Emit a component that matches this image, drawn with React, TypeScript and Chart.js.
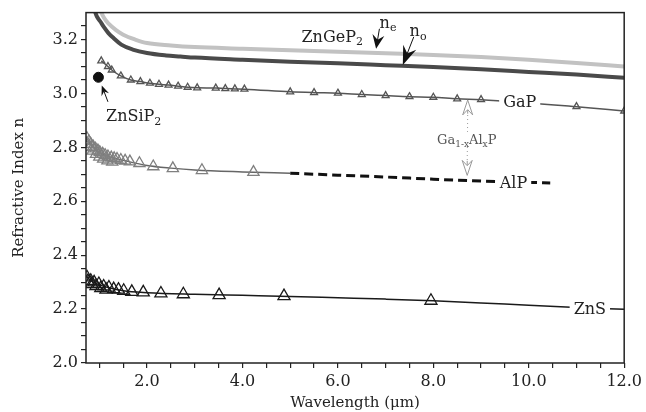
import React, { useEffect, useRef } from 'react';
import { Chart, registerables } from 'chart.js';
Chart.register(...registerables);

// ZnGeP2 extraordinary index n_e (light gray curve)
const neX = [0.97, 1.02, 1.1, 1.2, 1.35, 1.5, 1.75, 2.0, 2.5, 3.0, 4.0, 5.0, 6.0, 7.0, 8.0, 9.0, 10.0, 11.0, 12.0];
const neY = [3.34, 3.31, 3.28, 3.258, 3.235, 3.218, 3.2, 3.187, 3.178, 3.172, 3.166, 3.16, 3.155, 3.149, 3.143, 3.135, 3.125, 3.113, 3.1];

// ZnGeP2 ordinary index n_o (dark curve)
const noX = [0.86, 0.9, 0.95, 1.02, 1.1, 1.19, 1.3, 1.46, 1.7, 2.0, 2.4, 2.7, 3.0, 4.0, 5.0, 6.0, 7.0, 8.0, 9.0, 10.0, 11.0, 12.0];
const noY = [3.35, 3.31, 3.285, 3.267, 3.245, 3.224, 3.205, 3.181, 3.163, 3.15, 3.141, 3.137, 3.133, 3.125, 3.118, 3.112, 3.105, 3.098, 3.09, 3.08, 3.07, 3.058];

// GaP measured points
const gapX = [1.04, 1.18, 1.26, 1.45, 1.66, 1.86, 2.06, 2.25, 2.45, 2.65, 2.85, 3.05, 3.44, 3.64, 3.84, 4.04, 5.0, 5.5, 6.0, 6.5, 7.0, 7.5, 8.0, 8.5, 9.0, 11.0, 12.0];
const gapY = [3.121, 3.1, 3.087, 3.065, 3.05, 3.044, 3.038, 3.034, 3.031, 3.027, 3.023, 3.021, 3.02, 3.018, 3.017, 3.016, 3.006, 3.003, 3.001, 2.996, 2.992, 2.988, 2.986, 2.98, 2.977, 2.951, 2.935];

// AlP measured points (two overlapping sets)
const alpX = [0.74, 0.78, 0.82, 0.87, 0.92, 0.97, 1.01, 1.07, 1.12, 1.18, 1.25, 1.31, 1.37, 1.45, 1.54, 1.64, 1.84, 2.13, 2.54, 3.15, 4.23];
const alpY = [2.834, 2.822, 2.812, 2.803, 2.795, 2.788, 2.782, 2.776, 2.771, 2.766, 2.762, 2.759, 2.757, 2.753, 2.75, 2.747, 2.741, 2.729, 2.722, 2.715, 2.708];
const alp2X = [0.76, 0.8, 0.86, 0.93, 1.0, 1.08, 1.17, 1.27];
const alp2Y = [2.812, 2.8, 2.787, 2.775, 2.765, 2.757, 2.751, 2.746];
// AlP fitted curve (solid) and extrapolation (dashed)
const alpLineX = [0.72, 0.8, 0.9, 1.0, 1.2, 1.5, 2.0, 2.5, 3.0, 4.0, 5.0];
const alpLineY = [2.84, 2.815, 2.795, 2.782, 2.765, 2.752, 2.733, 2.723, 2.716, 2.709, 2.704];
const alpDashX = [5.0, 6.0, 7.0, 8.0, 9.0, 10.0, 10.45];
const alpDashY = [2.704, 2.697, 2.69, 2.682, 2.675, 2.67, 2.668];

// ZnS measured points and curve
const znsX = [0.74, 0.82, 0.89, 0.99, 1.09, 1.2, 1.3, 1.4, 1.51, 1.68, 1.92, 2.29, 2.76, 3.51, 4.87, 7.95];
const znsY = [2.318, 2.305, 2.299, 2.293, 2.284, 2.28, 2.274, 2.272, 2.268, 2.264, 2.262, 2.258, 2.255, 2.252, 2.248, 2.231];
const zns2X = [0.76, 0.84, 0.93, 1.03, 1.14];
const zns2Y = [2.304, 2.293, 2.285, 2.278, 2.272];
const znsLineX = [0.72, 0.8, 0.9, 1.0, 1.2, 1.5, 2.0, 3.0, 4.0, 5.0, 6.0, 7.0, 8.0, 9.0, 10.0, 11.0, 12.0];
const znsLineY = [2.325, 2.308, 2.298, 2.29, 2.279, 2.268, 2.261, 2.255, 2.251, 2.247, 2.242, 2.237, 2.231, 2.223, 2.214, 2.206, 2.199];

// ZnSiP2 single point
const znsipX = [0.98];
const znsipY = [3.06];

// Axis ticks
const xMajorTicks = [2, 4, 6, 8, 10, 12];
const yMajorTicks = [2.0, 2.2, 2.4, 2.6, 2.8, 3.0, 3.2];
const X_MIN = 0.72, X_MAX = 12.0, Y_MIN = 2.0, Y_MAX = 3.3;

const SERIF = '"DejaVu Serif", "Liberation Serif", serif';

const pts = (xs: number[], ys: number[]) => xs.map((x, i) => ({ x, y: ys[i] }));

type Seg = [string, number];

function richWidth(ctx: CanvasRenderingContext2D, segs: Seg[], size: number) {
  let w = 0;
  for (const [t, sub] of segs) {
    ctx.font = `${sub ? Math.round(size * 0.68) : size}px ${SERIF}`;
    w += ctx.measureText(t).width;
  }
  return w;
}

function drawRich(ctx: CanvasRenderingContext2D, segs: Seg[], cx: number, cy: number, size: number, color: string, bg = false) {
  const w = richWidth(ctx, segs, size);
  let x = cx - w / 2;
  const base = cy + size * 0.36;
  if (bg) {
    ctx.fillStyle = '#fff';
    ctx.fillRect(x - 4, cy - size * 0.55, w + 8, size * 1.1);
  }
  ctx.fillStyle = color;
  ctx.textAlign = 'left';
  ctx.textBaseline = 'alphabetic';
  for (const [t, sub] of segs) {
    const s = sub ? Math.round(size * 0.68) : size;
    ctx.font = `${s}px ${SERIF}`;
    ctx.fillText(t, x, sub ? base + size * 0.22 : base);
    x += ctx.measureText(t).width;
  }
}

function arrow(ctx: CanvasRenderingContext2D, x0: number, y0: number, x1: number, y1: number, L: number, W: number, color: string, filled: boolean) {
  const dx = x1 - x0, dy = y1 - y0;
  const len = Math.hypot(dx, dy) || 1;
  const ux = dx / len, uy = dy / len;
  const nx = -uy, ny = ux;
  ctx.strokeStyle = color;
  ctx.lineWidth = 1;
  ctx.setLineDash([]);
  ctx.beginPath();
  ctx.moveTo(x0, y0);
  ctx.lineTo(x1 - ux * L * 0.6, y1 - uy * L * 0.6);
  ctx.stroke();
  ctx.beginPath();
  ctx.moveTo(x1, y1);
  ctx.lineTo(x1 - ux * L + nx * W, y1 - uy * L + ny * W);
  ctx.lineTo(x1 - ux * L * 0.65, y1 - uy * L * 0.65);
  ctx.lineTo(x1 - ux * L - nx * W, y1 - uy * L - ny * W);
  ctx.closePath();
  if (filled) {
    ctx.fillStyle = color;
    ctx.fill();
  } else {
    ctx.fillStyle = '#fff';
    ctx.fill();
    ctx.stroke();
  }
}

const annotPlugin = {
  id: 'annot',
  afterDatasetsDraw(chart: any) {
    const { ctx, scales } = chart;
    const X = (v: number) => scales.x.getPixelForValue(v);
    const Y = (v: number) => scales.y.getPixelForValue(v);
    ctx.save();

    // Ga(1-x)Al(x)P dotted connector with hollow arrowheads
    ctx.strokeStyle = '#999';
    ctx.lineWidth = 1;
    ctx.setLineDash([1, 3]);
    ctx.beginPath();
    ctx.moveTo(X(8.72), Y(2.92));
    ctx.lineTo(X(8.71), Y(2.752));
    ctx.stroke();
    ctx.setLineDash([]);
    arrow(ctx, X(8.72), Y(2.925), X(8.72), Y(2.976), 15, 5, '#999', false);
    arrow(ctx, X(8.71), Y(2.75), X(8.71), Y(2.696), 15, 5, '#999', false);
    drawRich(ctx, [['Ga', 0], ['1-x', 1], ['Al', 0], ['x', 1], ['P', 0]], X(8.70), Y(2.831), 13, '#555', true);

    // curve labels with white background
    drawRich(ctx, [['GaP', 0]], X(9.81), Y(2.97), 16, '#222', true);
    drawRich(ctx, [['AlP', 0]], X(9.68), Y(2.671), 16, '#222', true);
    drawRich(ctx, [['ZnS', 0]], X(11.28), Y(2.203), 16, '#222', true);

    // ZnGeP2 labels and arrows
    drawRich(ctx, [['ZnGeP', 0], ['2', 1]], X(5.88), Y(3.214), 16, '#222');
    drawRich(ctx, [['n', 0], ['e', 1]], X(7.05), Y(3.266), 16, '#222');
    drawRich(ctx, [['n', 0], ['o', 1]], X(7.68), Y(3.233), 16, '#222');
    arrow(ctx, X(6.87), Y(3.24), X(6.8), Y(3.166), 14, 6, '#111', true);
    arrow(ctx, X(7.59), Y(3.21), X(7.36), Y(3.106), 19, 7, '#111', true);

    // ZnSiP2 label and arrow
    arrow(ctx, X(1.18), Y(2.969), X(1.05), Y(3.03), 10, 4, '#111', true);
    drawRich(ctx, [['ZnSiP', 0], ['2', 1]], X(1.72), Y(2.918), 16, '#222');

    ctx.restore();
  },
  afterDraw(chart: any) {
    const { ctx, chartArea: a } = chart;
    ctx.save();
    ctx.strokeStyle = '#222';
    ctx.lineWidth = 1.5;
    ctx.strokeRect(a.left, a.top, a.right - a.left, a.bottom - a.top);
    ctx.restore();
  },
};

const near = (v: number, arr: number[]) => arr.some((m) => Math.abs(m - v) < 1e-6);

export default function App() {
  const ref = useRef<HTMLCanvasElement>(null);
  useEffect(() => {
    const canvas = ref.current!;
    const triangles = (data: any, color: string, r: number) => ({
      data,
      showLine: false,
      pointStyle: 'triangle',
      pointRadius: r,
      pointBorderColor: color,
      pointBackgroundColor: 'rgba(255,255,255,0)',
      pointBorderWidth: 1.3,
    });
    const line = (data: any, color: string, w: number, dash: number[] = []) => ({
      data,
      borderColor: color,
      borderWidth: w,
      borderDash: dash,
      pointRadius: 0,
      cubicInterpolationMode: 'monotone',
      fill: false,
    });
    const chart = new Chart(canvas, {
      type: 'scatter',
      data: {
        datasets: [
          {
            data: pts(znsipX, znsipY),
            pointStyle: 'circle',
            pointRadius: 5,
            pointBackgroundColor: '#111',
            pointBorderColor: '#111',
            showLine: false,
          } as any,
          triangles(pts(gapX, gapY), '#555', 4),
          { ...line(pts(gapX, gapY), '#555', 1.5) },
          triangles(pts(alpX, alpY), '#808080', 6.5),
          triangles(pts(alp2X, alp2Y), '#808080', 6.5),
          line(pts(alpLineX, alpLineY), '#666', 1.5),
          line(pts(alpDashX, alpDashY), '#111', 3, [9, 5]),
          triangles(pts(znsX, znsY), '#1a1a1a', 7),
          triangles(pts(zns2X, zns2Y), '#1a1a1a', 7),
          line(pts(znsLineX, znsLineY), '#1a1a1a', 1.5),
          line(pts(noX, noY), '#4a4a4a', 4),
          line(pts(neX, neY), '#c2c2c2', 4),
        ] as any,
      },
      options: {
        animation: false,
        responsive: false,
        showLine: true,
        layout: { padding: { top: 12, right: 18, left: 0, bottom: 0 } },
        plugins: { legend: { display: false }, tooltip: { enabled: false } },
        scales: {
          x: {
            type: 'linear',
            min: X_MIN,
            max: X_MAX,
            border: { display: false },
            grid: { drawOnChartArea: false, drawTicks: true, tickLength: 5, color: '#222', lineWidth: 1.2 },
            afterBuildTicks: (axis: any) => {
              const t = [];
              for (let v = 1.0; v <= X_MAX + 1e-9; v += 0.5) t.push({ value: Math.round(v * 10) / 10 });
              axis.ticks = t;
            },
            afterFit: (s: any) => { s.height = 49; },
            ticks: {
              autoSkip: false,
              maxRotation: 0,
              padding: 4,
              color: '#222',
              font: { family: SERIF, size: 16 },
              callback: (v: any) => (near(Number(v), xMajorTicks) ? Number(v).toFixed(1) : ''),
            },
            title: { display: true, text: 'Wavelength (μm)', color: '#222', font: { family: SERIF, size: 15 }, padding: { top: 0, bottom: 0 } },
          },
          y: {
            type: 'linear',
            min: Y_MIN,
            max: Y_MAX,
            border: { display: false },
            grid: { drawOnChartArea: false, drawTicks: true, tickLength: 5, color: '#222', lineWidth: 1.2 },
            afterBuildTicks: (axis: any) => {
              const t = [];
              for (let i = 0; i <= 25; i++) t.push({ value: Math.round((Y_MIN + i * 0.05) * 100) / 100 });
              axis.ticks = t;
            },
            afterFit: (s: any) => { s.width = 86; },
            ticks: {
              autoSkip: false,
              padding: 3,
              color: '#222',
              font: { family: SERIF, size: 16 },
              callback: (v: any) => (near(Number(v), yMajorTicks) ? Number(v).toFixed(1) : ''),
            },
            title: { display: true, text: 'Refractive Index n', color: '#222', font: { family: SERIF, size: 15 }, padding: { top: 10, bottom: 0 } },
          },
        },
      } as any,
      plugins: [annotPlugin],
    });
    return () => chart.destroy();
  }, []);
  return (
    <div style={{ position: 'absolute', left: 0, top: 0, width: 646, height: 412, background: '#fff' }}>
      <canvas ref={ref} width={646} height={412} style={{ display: 'block' }} />
    </div>
  );
}
